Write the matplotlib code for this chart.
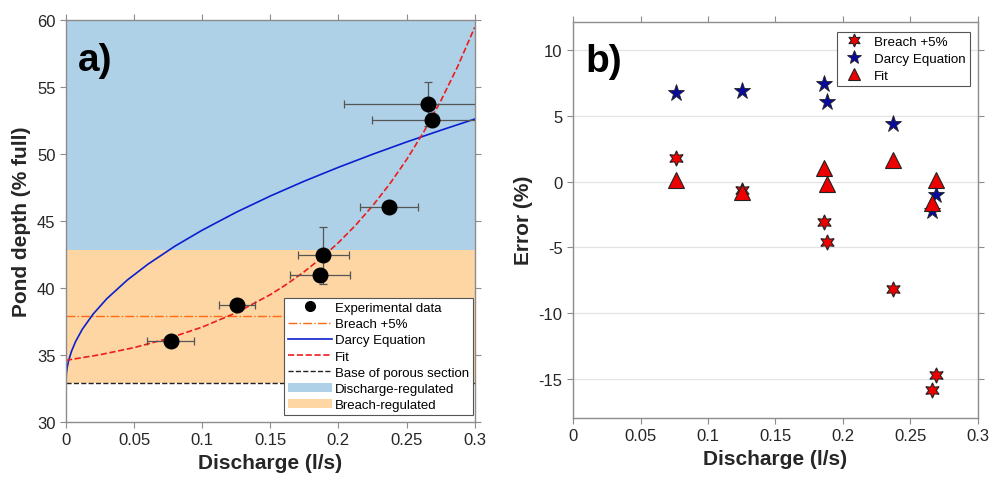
import numpy as np
import matplotlib
matplotlib.use('Agg')
import matplotlib.pyplot as plt
from matplotlib.patches import Patch
from matplotlib.lines import Line2D

plt.rcParams['font.family'] = ['Liberation Sans', 'DejaVu Sans']
plt.rcParams['axes.unicode_minus'] = False

# experimental data (panel a)
q_exp = [0.0768, 0.1254, 0.1864, 0.1888, 0.2372, 0.2658, 0.2688]
depth_exp = [36.05, 38.7, 40.99, 42.43, 46.03, 53.72, 52.55]
q_err = [0.017, 0.0133, 0.0218, 0.0187, 0.0214, 0.0616, 0.0439]
depth_err = [0.0, 0.0, 0.0, 2.1, 0.0, 1.62, 0.0]

# Darcy equation curve
q_darcy = [0, 0.0003, 0.001, 0.002, 0.004, 0.007, 0.012, 0.02, 0.03, 0.045, 0.06,
           0.08, 0.1, 0.125, 0.15, 0.175, 0.2, 0.225, 0.25, 0.275, 0.3]
depth_darcy = [33.0, 33.62, 34.13, 34.6, 35.26, 35.99, 36.92, 38.06, 39.2, 40.59, 41.76,
               43.12, 44.31, 45.65, 46.86, 47.97, 49.0, 49.97, 50.89, 51.76, 52.6]

# fit curve
q_fit = [0, 0.025, 0.05, 0.075, 0.1, 0.125, 0.15, 0.1625, 0.175, 0.1875, 0.2, 0.2125,
         0.225, 0.2375, 0.25, 0.2625, 0.275, 0.2875, 0.3]
depth_fit = [34.6, 35.02, 35.55, 36.23, 37.08, 38.15, 39.5, 40.31, 41.22, 42.24, 43.38, 44.67,
             46.12, 47.74, 49.57, 51.62, 53.93, 56.52, 59.44]

breach_5 = 37.9
base_porous = 32.9
regime_split = 42.8

# errors (panel b)
q_b = [0.076, 0.125, 0.186, 0.188, 0.237, 0.266, 0.269]
err_breach = [1.83, -0.6, -3.07, -4.57, -8.18, -15.87, -14.73]
err_darcy = [6.78, 6.93, 7.43, 6.06, 4.36, -2.25, -1.02]
err_fit = [0.1, -0.75, 1.07, -0.15, 1.65, -1.6, 0.1]

blue_fill = '#afd1e8'
orange_fill = '#fdd6a4'
gray = '#8c8c8c'
txt = '#262626'

fig = plt.figure(figsize=(9.92, 4.81), dpi=100)
ax1 = fig.add_axes([0.0665, 0.1206, 0.412, 0.836])
ax2 = fig.add_axes([0.5777, 0.129, 0.408, 0.824])

# ---- panel a
ax1.axhspan(regime_split, 60, color=blue_fill, lw=0, zorder=0)
ax1.axhspan(base_porous, regime_split, color=orange_fill, lw=0, zorder=0)
ax1.axhline(breach_5, color='#ff6a13', ls='-.', lw=1.0, zorder=1)
ax1.axhline(base_porous, color='#222222', ls='--', lw=1.0, zorder=1)
ax1.plot(q_darcy, depth_darcy, color='#0a1fd0', lw=1.2, zorder=2)
ax1.plot(q_fit, depth_fit, color='#ee1c1c', ls='--', lw=1.2, zorder=2)
ax1.errorbar(q_exp, depth_exp, xerr=q_err, yerr=depth_err, fmt='o', color='black',
             ecolor='#555555', elinewidth=0.9, capsize=3, capthick=0.9,
             markersize=10.5, zorder=3)
ax1.set_xlim(0, 0.3)
ax1.set_ylim(30, 60)
ax1.set_xticks(np.arange(0, 0.31, 0.05))
ax1.set_xticklabels(['0', '0.05', '0.1', '0.15', '0.2', '0.25', '0.3'])
ax1.set_yticks(np.arange(30, 61, 5))
ax1.set_xlabel('Discharge (l/s)', fontsize=15, fontweight='bold', color=txt)
ax1.set_ylabel('Pond depth (% full)', fontsize=15, fontweight='bold', color=txt)
ax1.text(0.03, 0.945, 'a)', transform=ax1.transAxes, fontsize=28, fontweight='bold',
         va='top', ha='left', color='black')

handles1 = [
    Line2D([], [], ls='none', marker='o', color='black', markersize=7),
    Line2D([], [], color='#ff6a13', ls='-.', lw=1.0),
    Line2D([], [], color='#0a1fd0', lw=1.2),
    Line2D([], [], color='#ee1c1c', ls='--', lw=1.2),
    Line2D([], [], color='#222222', ls='--', lw=1.0),
    Patch(facecolor=blue_fill, edgecolor='none'),
    Patch(facecolor=orange_fill, edgecolor='none'),
]
labels1 = ['Experimental data', 'Breach +5%', 'Darcy Equation', 'Fit',
           'Base of porous section', 'Discharge-regulated', 'Breach-regulated']
leg1 = ax1.legend(handles1, labels1, loc='lower right', bbox_to_anchor=(0.995, 0.017),
                  fontsize=9.5, frameon=True, fancybox=False, framealpha=1,
                  edgecolor='#555555', handlelength=3.3, handletextpad=0.2,
                  labelspacing=0.3, borderpad=0.3, borderaxespad=0.0)
leg1.get_frame().set_linewidth(0.8)

# ---- panel b
ax2.grid(axis='y', color='#e3e3e3', lw=0.9)
ax2.set_axisbelow(True)
ax2.plot(q_b, err_breach, ls='none', marker=(6, 1, 0), markersize=11,
         markerfacecolor='#ee0000', markeredgecolor='#222222', markeredgewidth=0.8,
         label='Breach +5%', zorder=3)
ax2.plot(q_b, err_darcy, ls='none', marker='*', markersize=12.5,
         markerfacecolor='#0a0a9a', markeredgecolor='#222222', markeredgewidth=0.6,
         label='Darcy Equation', zorder=3)
ax2.plot(q_b, err_fit, ls='none', marker='^', markersize=11,
         markerfacecolor='#ee0000', markeredgecolor='#222222', markeredgewidth=0.8,
         label='Fit', zorder=3)
ax2.set_xlim(0, 0.3)
ax2.set_ylim(-18, 12.2)
ax2.set_xticks(np.arange(0, 0.31, 0.05))
ax2.set_xticklabels(['0', '0.05', '0.1', '0.15', '0.2', '0.25', '0.3'])
ax2.set_yticks(np.arange(-15, 11, 5))
ax2.set_xlabel('Discharge (l/s)', fontsize=15, fontweight='bold', color=txt)
ax2.set_ylabel('Error (%)', fontsize=15, fontweight='bold', color=txt)
ax2.text(0.03, 0.945, 'b)', transform=ax2.transAxes, fontsize=28, fontweight='bold',
         va='top', ha='left', color='black')
leg2 = ax2.legend(loc='upper right', bbox_to_anchor=(0.98, 0.975), fontsize=9.6,
                  frameon=True, fancybox=False, framealpha=1, edgecolor='#555555',
                  handlelength=2.0, handletextpad=0.5, labelspacing=0.35,
                  borderpad=0.3, borderaxespad=0.0, markerscale=0.85)
leg2.get_frame().set_linewidth(0.8)

for ax in (ax1, ax2):
    for sp in ax.spines.values():
        sp.set_color(gray)
        sp.set_linewidth(1.0)
    ax.tick_params(direction='out', length=4, width=0.8, color=gray,
                   labelsize=12, labelcolor=txt, top=True, right=True)

fig.savefig('out.png', dpi=100)
